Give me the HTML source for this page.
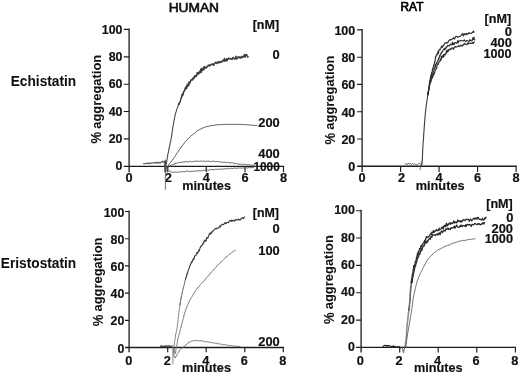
<!DOCTYPE html>
<html><head><meta charset="utf-8"><title>Platelet aggregation</title>
<style>
html,body{margin:0;padding:0;background:#fff;}
body{width:520px;height:374px;overflow:hidden;font-family:"Liberation Sans",sans-serif;}
svg{display:block;font-family:"Liberation Sans",sans-serif;filter:grayscale(1);}
</style></head><body>
<svg width="520" height="374" viewBox="0 0 520 374">
<rect width="520" height="374" fill="#fff"/>
<path d="M129.1,28.5 V172.2 M123.7,166.3 H284.1" stroke="#1c1c1c" stroke-width="1.3" fill="none"/>
<path d="M167.7,166.3 V172.2 M206.2,166.3 V172.2 M245.0,166.3 V172.2 M283.5,166.3 V172.2 M129.1,138.9 H123.7 M129.1,111.5 H123.7 M129.1,84.2 H123.7 M129.1,56.8 H123.7 M129.1,29.4 H123.7 " stroke="#1c1c1c" stroke-width="1.15" fill="none"/>
<text x="122.5" y="170.4" font-size="12.3" font-weight="bold" text-anchor="end" textLength="6.9" lengthAdjust="spacingAndGlyphs" fill="#111" stroke="#111" stroke-width="0.18">0</text>
<text x="122.5" y="143.0" font-size="12.3" font-weight="bold" text-anchor="end" textLength="13.8" lengthAdjust="spacingAndGlyphs" fill="#111" stroke="#111" stroke-width="0.18">20</text>
<text x="122.5" y="115.6" font-size="12.3" font-weight="bold" text-anchor="end" textLength="13.8" lengthAdjust="spacingAndGlyphs" fill="#111" stroke="#111" stroke-width="0.18">40</text>
<text x="122.5" y="88.3" font-size="12.3" font-weight="bold" text-anchor="end" textLength="13.8" lengthAdjust="spacingAndGlyphs" fill="#111" stroke="#111" stroke-width="0.18">60</text>
<text x="122.5" y="60.9" font-size="12.3" font-weight="bold" text-anchor="end" textLength="13.8" lengthAdjust="spacingAndGlyphs" fill="#111" stroke="#111" stroke-width="0.18">80</text>
<text x="122.5" y="33.5" font-size="12.3" font-weight="bold" text-anchor="end" textLength="20.7" lengthAdjust="spacingAndGlyphs" fill="#111" stroke="#111" stroke-width="0.18">100</text>
<text x="129.1" y="182.1" font-size="12.3" font-weight="bold" text-anchor="middle" textLength="7.1" lengthAdjust="spacingAndGlyphs" fill="#111" stroke="#111" stroke-width="0.18">0</text>
<text x="168.2" y="182.1" font-size="12.3" font-weight="bold" text-anchor="middle" textLength="7.1" lengthAdjust="spacingAndGlyphs" fill="#111" stroke="#111" stroke-width="0.18">2</text>
<text x="206.2" y="182.1" font-size="12.3" font-weight="bold" text-anchor="middle" textLength="7.1" lengthAdjust="spacingAndGlyphs" fill="#111" stroke="#111" stroke-width="0.18">4</text>
<text x="245.0" y="182.1" font-size="12.3" font-weight="bold" text-anchor="middle" textLength="7.1" lengthAdjust="spacingAndGlyphs" fill="#111" stroke="#111" stroke-width="0.18">6</text>
<text x="283.5" y="182.1" font-size="12.3" font-weight="bold" text-anchor="middle" textLength="7.1" lengthAdjust="spacingAndGlyphs" fill="#111" stroke="#111" stroke-width="0.18">8</text>
<path d="M362.1,29.0 V172.1 M357.1,166.25 H516.7" stroke="#1c1c1c" stroke-width="1.3" fill="none"/>
<path d="M400.6,166.25 V172.1 M439.1,166.25 V172.1 M477.6,166.25 V172.1 M516.1,166.25 V172.1 M362.1,139.0 H357.1 M362.1,111.7 H357.1 M362.1,84.4 H357.1 M362.1,57.2 H357.1 M362.1,29.9 H357.1 " stroke="#1c1c1c" stroke-width="1.15" fill="none"/>
<text x="355.3" y="171.0" font-size="12.3" font-weight="bold" text-anchor="end" textLength="7.0" lengthAdjust="spacingAndGlyphs" fill="#111" stroke="#111" stroke-width="0.18">0</text>
<text x="355.3" y="143.7" font-size="12.3" font-weight="bold" text-anchor="end" textLength="13.9" lengthAdjust="spacingAndGlyphs" fill="#111" stroke="#111" stroke-width="0.18">20</text>
<text x="355.3" y="116.5" font-size="12.3" font-weight="bold" text-anchor="end" textLength="13.9" lengthAdjust="spacingAndGlyphs" fill="#111" stroke="#111" stroke-width="0.18">40</text>
<text x="355.3" y="89.2" font-size="12.3" font-weight="bold" text-anchor="end" textLength="13.9" lengthAdjust="spacingAndGlyphs" fill="#111" stroke="#111" stroke-width="0.18">60</text>
<text x="355.3" y="61.9" font-size="12.3" font-weight="bold" text-anchor="end" textLength="13.9" lengthAdjust="spacingAndGlyphs" fill="#111" stroke="#111" stroke-width="0.18">80</text>
<text x="355.3" y="34.7" font-size="12.3" font-weight="bold" text-anchor="end" textLength="20.9" lengthAdjust="spacingAndGlyphs" fill="#111" stroke="#111" stroke-width="0.18">100</text>
<text x="362.0" y="181.9" font-size="12.3" font-weight="bold" text-anchor="middle" textLength="7.1" lengthAdjust="spacingAndGlyphs" fill="#111" stroke="#111" stroke-width="0.18">0</text>
<text x="401.5" y="181.9" font-size="12.3" font-weight="bold" text-anchor="middle" textLength="7.1" lengthAdjust="spacingAndGlyphs" fill="#111" stroke="#111" stroke-width="0.18">2</text>
<text x="439.0" y="181.9" font-size="12.3" font-weight="bold" text-anchor="middle" textLength="7.1" lengthAdjust="spacingAndGlyphs" fill="#111" stroke="#111" stroke-width="0.18">4</text>
<text x="477.5" y="181.9" font-size="12.3" font-weight="bold" text-anchor="middle" textLength="7.1" lengthAdjust="spacingAndGlyphs" fill="#111" stroke="#111" stroke-width="0.18">6</text>
<text x="516.0" y="181.9" font-size="12.3" font-weight="bold" text-anchor="middle" textLength="7.1" lengthAdjust="spacingAndGlyphs" fill="#111" stroke="#111" stroke-width="0.18">8</text>
<path d="M129.1,210.6 V352.2 M125.0,347.5 H283.90000000000003" stroke="#1c1c1c" stroke-width="1.3" fill="none"/>
<path d="M167.7,347.5 V352.2 M206.2,347.5 V352.2 M244.8,347.5 V352.2 M283.3,347.5 V352.2 M129.1,320.3 H125.0 M129.1,293.1 H125.0 M129.1,265.9 H125.0 M129.1,238.7 H125.0 M129.1,211.5 H125.0 " stroke="#1c1c1c" stroke-width="1.15" fill="none"/>
<text x="124.4" y="352.6" font-size="12.3" font-weight="bold" text-anchor="end" textLength="6.9" lengthAdjust="spacingAndGlyphs" fill="#111" stroke="#111" stroke-width="0.18">0</text>
<text x="124.4" y="325.4" font-size="12.3" font-weight="bold" text-anchor="end" textLength="13.8" lengthAdjust="spacingAndGlyphs" fill="#111" stroke="#111" stroke-width="0.18">20</text>
<text x="124.4" y="298.2" font-size="12.3" font-weight="bold" text-anchor="end" textLength="13.8" lengthAdjust="spacingAndGlyphs" fill="#111" stroke="#111" stroke-width="0.18">40</text>
<text x="124.4" y="271.0" font-size="12.3" font-weight="bold" text-anchor="end" textLength="13.8" lengthAdjust="spacingAndGlyphs" fill="#111" stroke="#111" stroke-width="0.18">60</text>
<text x="124.4" y="243.8" font-size="12.3" font-weight="bold" text-anchor="end" textLength="13.8" lengthAdjust="spacingAndGlyphs" fill="#111" stroke="#111" stroke-width="0.18">80</text>
<text x="124.4" y="216.6" font-size="12.3" font-weight="bold" text-anchor="end" textLength="20.7" lengthAdjust="spacingAndGlyphs" fill="#111" stroke="#111" stroke-width="0.18">100</text>
<text x="128.7" y="364.6" font-size="12.3" font-weight="bold" text-anchor="middle" textLength="7.1" lengthAdjust="spacingAndGlyphs" fill="#111" stroke="#111" stroke-width="0.18">0</text>
<text x="167.3" y="364.6" font-size="12.3" font-weight="bold" text-anchor="middle" textLength="7.1" lengthAdjust="spacingAndGlyphs" fill="#111" stroke="#111" stroke-width="0.18">2</text>
<text x="205.8" y="364.6" font-size="12.3" font-weight="bold" text-anchor="middle" textLength="7.1" lengthAdjust="spacingAndGlyphs" fill="#111" stroke="#111" stroke-width="0.18">4</text>
<text x="244.4" y="364.6" font-size="12.3" font-weight="bold" text-anchor="middle" textLength="7.1" lengthAdjust="spacingAndGlyphs" fill="#111" stroke="#111" stroke-width="0.18">6</text>
<text x="282.9" y="364.6" font-size="12.3" font-weight="bold" text-anchor="middle" textLength="7.1" lengthAdjust="spacingAndGlyphs" fill="#111" stroke="#111" stroke-width="0.18">8</text>
<path d="M361.1,209.79999999999998 V352.4 M356.1,347.4 H516.0" stroke="#1c1c1c" stroke-width="1.3" fill="none"/>
<path d="M399.7,347.4 V352.4 M438.2,347.4 V352.4 M476.8,347.4 V352.4 M515.4,347.4 V352.4 M361.1,320.1 H356.1 M361.1,292.7 H356.1 M361.1,265.4 H356.1 M361.1,238.0 H356.1 M361.1,210.7 H356.1 " stroke="#1c1c1c" stroke-width="1.15" fill="none"/>
<text x="354.9" y="351.0" font-size="12.3" font-weight="bold" text-anchor="end" textLength="6.9" lengthAdjust="spacingAndGlyphs" fill="#111" stroke="#111" stroke-width="0.18">0</text>
<text x="354.9" y="323.7" font-size="12.3" font-weight="bold" text-anchor="end" textLength="13.8" lengthAdjust="spacingAndGlyphs" fill="#111" stroke="#111" stroke-width="0.18">20</text>
<text x="354.9" y="296.3" font-size="12.3" font-weight="bold" text-anchor="end" textLength="13.8" lengthAdjust="spacingAndGlyphs" fill="#111" stroke="#111" stroke-width="0.18">40</text>
<text x="354.9" y="269.0" font-size="12.3" font-weight="bold" text-anchor="end" textLength="13.8" lengthAdjust="spacingAndGlyphs" fill="#111" stroke="#111" stroke-width="0.18">60</text>
<text x="354.9" y="241.6" font-size="12.3" font-weight="bold" text-anchor="end" textLength="13.8" lengthAdjust="spacingAndGlyphs" fill="#111" stroke="#111" stroke-width="0.18">80</text>
<text x="354.9" y="214.3" font-size="12.3" font-weight="bold" text-anchor="end" textLength="20.7" lengthAdjust="spacingAndGlyphs" fill="#111" stroke="#111" stroke-width="0.18">100</text>
<text x="360.4" y="364.7" font-size="12.3" font-weight="bold" text-anchor="middle" textLength="7.1" lengthAdjust="spacingAndGlyphs" fill="#111" stroke="#111" stroke-width="0.18">0</text>
<text x="399.0" y="364.7" font-size="12.3" font-weight="bold" text-anchor="middle" textLength="7.1" lengthAdjust="spacingAndGlyphs" fill="#111" stroke="#111" stroke-width="0.18">2</text>
<text x="437.5" y="364.7" font-size="12.3" font-weight="bold" text-anchor="middle" textLength="7.1" lengthAdjust="spacingAndGlyphs" fill="#111" stroke="#111" stroke-width="0.18">4</text>
<text x="476.1" y="364.7" font-size="12.3" font-weight="bold" text-anchor="middle" textLength="7.1" lengthAdjust="spacingAndGlyphs" fill="#111" stroke="#111" stroke-width="0.18">6</text>
<text x="514.7" y="364.7" font-size="12.3" font-weight="bold" text-anchor="middle" textLength="7.1" lengthAdjust="spacingAndGlyphs" fill="#111" stroke="#111" stroke-width="0.18">8</text>
<text x="168.7" y="12.3" font-size="12.9" font-weight="normal" text-anchor="start" textLength="50.3" lengthAdjust="spacingAndGlyphs" fill="#111" stroke="#111" stroke-width="0.65">HUMAN</text>
<text x="400.5" y="11.3" font-size="12.5" font-weight="normal" text-anchor="start" textLength="22.9" lengthAdjust="spacingAndGlyphs" fill="#000" stroke="#000" stroke-width="0.7">RAT</text>
<text x="10.7" y="85.6" font-size="14.5" font-weight="bold" text-anchor="start" textLength="65.5" lengthAdjust="spacingAndGlyphs" fill="#111" stroke="#111" stroke-width="0.05">Echistatin</text>
<text x="0.8" y="267.8" font-size="14.5" font-weight="bold" text-anchor="start" textLength="75.4" lengthAdjust="spacingAndGlyphs" fill="#111" stroke="#111" stroke-width="0.05">Eristostatin</text>
<text x="101.3" y="143.6" font-size="14.2" font-weight="bold" text-anchor="start" textLength="11.6" lengthAdjust="spacingAndGlyphs" transform="rotate(-90 101.3 143.6)" fill="#111" stroke="#111" stroke-width="0.05">%</text>
<text x="100.7" y="128.8" font-size="12.1" font-weight="bold" text-anchor="start" textLength="74.0" lengthAdjust="spacingAndGlyphs" transform="rotate(-90 100.7 128.8)" fill="#111" stroke="#111" stroke-width="0.05">aggregation</text>
<text x="102.9" y="326.3" font-size="14.2" font-weight="bold" text-anchor="start" textLength="11.6" lengthAdjust="spacingAndGlyphs" transform="rotate(-90 102.9 326.3)" fill="#111" stroke="#111" stroke-width="0.05">%</text>
<text x="102.3" y="311.5" font-size="12.1" font-weight="bold" text-anchor="start" textLength="74.0" lengthAdjust="spacingAndGlyphs" transform="rotate(-90 102.3 311.5)" fill="#111" stroke="#111" stroke-width="0.05">aggregation</text>
<text x="334.6" y="144.5" font-size="14.2" font-weight="bold" text-anchor="start" textLength="11.6" lengthAdjust="spacingAndGlyphs" transform="rotate(-90 334.6 144.5)" fill="#111" stroke="#111" stroke-width="0.05">%</text>
<text x="334.0" y="129.7" font-size="12.1" font-weight="bold" text-anchor="start" textLength="74.0" lengthAdjust="spacingAndGlyphs" transform="rotate(-90 334.0 129.7)" fill="#111" stroke="#111" stroke-width="0.05">aggregation</text>
<text x="333.8" y="324.0" font-size="14.2" font-weight="bold" text-anchor="start" textLength="11.6" lengthAdjust="spacingAndGlyphs" transform="rotate(-90 333.8 324.0)" fill="#111" stroke="#111" stroke-width="0.05">%</text>
<text x="333.2" y="309.2" font-size="12.1" font-weight="bold" text-anchor="start" textLength="74.0" lengthAdjust="spacingAndGlyphs" transform="rotate(-90 333.2 309.2)" fill="#111" stroke="#111" stroke-width="0.05">aggregation</text>
<text x="182.3" y="190.0" font-size="12.8" font-weight="bold" text-anchor="start" textLength="48.7" lengthAdjust="spacingAndGlyphs" fill="#111" stroke="#111" stroke-width="0.18">minutes</text>
<text x="415.7" y="190.0" font-size="12.8" font-weight="bold" text-anchor="start" textLength="48.9" lengthAdjust="spacingAndGlyphs" fill="#111" stroke="#111" stroke-width="0.18">minutes</text>
<text x="182.1" y="372.1" font-size="12.8" font-weight="bold" text-anchor="start" textLength="49.0" lengthAdjust="spacingAndGlyphs" fill="#111" stroke="#111" stroke-width="0.18">minutes</text>
<text x="413.9" y="372.1" font-size="12.8" font-weight="bold" text-anchor="start" textLength="48.7" lengthAdjust="spacingAndGlyphs" fill="#111" stroke="#111" stroke-width="0.18">minutes</text>
<text x="279.1" y="29.2" font-size="12.1" font-weight="bold" text-anchor="end" textLength="26.4" lengthAdjust="spacingAndGlyphs" fill="#111" stroke="#111" stroke-width="0.18">[nM]</text>
<text x="279.8" y="59.4" font-size="12.1" font-weight="bold" text-anchor="end" textLength="7.2" lengthAdjust="spacingAndGlyphs" fill="#111" stroke="#111" stroke-width="0.18">0</text>
<text x="279.8" y="127.4" font-size="12.1" font-weight="bold" text-anchor="end" textLength="21.5" lengthAdjust="spacingAndGlyphs" fill="#111" stroke="#111" stroke-width="0.18">200</text>
<text x="279.8" y="158.2" font-size="12.1" font-weight="bold" text-anchor="end" textLength="21.5" lengthAdjust="spacingAndGlyphs" fill="#111" stroke="#111" stroke-width="0.18">400</text>
<text x="279.8" y="170.7" font-size="12.1" font-weight="bold" text-anchor="end" textLength="26.4" lengthAdjust="spacingAndGlyphs" fill="#111" stroke="#111" stroke-width="0.18">1000</text>
<text x="511.2" y="22.6" font-size="12.1" font-weight="bold" text-anchor="end" textLength="26.6" lengthAdjust="spacingAndGlyphs" fill="#111" stroke="#111" stroke-width="0.18">[nM]</text>
<text x="512.0" y="36.1" font-size="12.1" font-weight="bold" text-anchor="end" textLength="7.2" lengthAdjust="spacingAndGlyphs" fill="#111" stroke="#111" stroke-width="0.18">0</text>
<text x="511.9" y="46.6" font-size="12.1" font-weight="bold" text-anchor="end" textLength="21.5" lengthAdjust="spacingAndGlyphs" fill="#111" stroke="#111" stroke-width="0.18">400</text>
<text x="511.5" y="57.6" font-size="12.1" font-weight="bold" text-anchor="end" textLength="28.0" lengthAdjust="spacingAndGlyphs" fill="#111" stroke="#111" stroke-width="0.18">1000</text>
<text x="279.0" y="216.6" font-size="12.1" font-weight="bold" text-anchor="end" textLength="26.2" lengthAdjust="spacingAndGlyphs" fill="#111" stroke="#111" stroke-width="0.18">[nM]</text>
<text x="279.8" y="233.3" font-size="12.1" font-weight="bold" text-anchor="end" textLength="7.2" lengthAdjust="spacingAndGlyphs" fill="#111" stroke="#111" stroke-width="0.18">0</text>
<text x="279.8" y="255.3" font-size="12.1" font-weight="bold" text-anchor="end" textLength="21.5" lengthAdjust="spacingAndGlyphs" fill="#111" stroke="#111" stroke-width="0.18">100</text>
<text x="279.8" y="346.2" font-size="12.1" font-weight="bold" text-anchor="end" textLength="21.5" lengthAdjust="spacingAndGlyphs" fill="#111" stroke="#111" stroke-width="0.18">200</text>
<text x="512.8" y="208.4" font-size="12.1" font-weight="bold" text-anchor="end" textLength="26.6" lengthAdjust="spacingAndGlyphs" fill="#111" stroke="#111" stroke-width="0.18">[nM]</text>
<text x="513.4" y="222.0" font-size="12.1" font-weight="bold" text-anchor="end" textLength="7.2" lengthAdjust="spacingAndGlyphs" fill="#111" stroke="#111" stroke-width="0.18">0</text>
<text x="513.0" y="232.6" font-size="12.1" font-weight="bold" text-anchor="end" textLength="21.5" lengthAdjust="spacingAndGlyphs" fill="#111" stroke="#111" stroke-width="0.18">200</text>
<text x="513.0" y="243.3" font-size="12.1" font-weight="bold" text-anchor="end" textLength="28.3" lengthAdjust="spacingAndGlyphs" fill="#111" stroke="#111" stroke-width="0.18">1000</text>
<path d="M143.2,163.8 L143.9,163.6 L144.7,163.7 L145.4,163.8 L146.1,163.3 L146.9,163.5 L147.6,163.5 L148.3,162.7 L149.1,163.8 L149.8,163.6 L150.5,163.0 L151.3,163.1 L152.0,163.3 L152.7,163.0 L153.4,162.9 L154.2,162.4 L154.9,163.1 L155.6,162.9 L156.4,162.9 L157.1,162.1 L157.8,163.3 L158.6,162.6 L159.3,162.3 L160.0,163.2 L160.8,162.3 L161.5,161.7 L162.2,162.0 L162.9,161.2 L163.7,162.4 L164.4,161.7" fill="none" stroke="#555" stroke-width="1.1" stroke-linejoin="round" />
<path d="M165.4,159.5 V189.8" stroke="#666" stroke-width="0.9" fill="none"/>
<path d="M165.3,160.6 V172.2" stroke="#4a4a4a" stroke-width="2.2" fill="none"/>
<path d="M166.3,164.5 L166.4,164.1 L166.5,162.6 L166.6,162.6 L166.7,161.1 L166.8,160.8 L166.9,159.9 L167.0,160.0 L167.1,159.4 L167.2,158.1 L167.3,157.7 L167.5,156.7 L167.6,156.3 L167.7,155.2 L167.8,154.2 L168.0,153.5 L168.1,153.4 L168.2,153.3 L168.4,152.0 L168.5,151.1 L168.7,151.1 L168.8,149.9 L168.9,149.2 L169.1,148.5 L169.2,147.7 L169.4,147.0 L169.5,145.9 L169.7,145.8 L169.8,144.9 L170.0,144.6 L170.1,143.5 L170.3,142.3 L170.4,142.2 L170.6,142.0 L170.7,140.7 L170.9,139.9 L171.0,139.1 L171.2,138.4 L171.3,138.0 L171.4,137.0 L171.5,137.1 L171.6,135.9 L171.7,135.3 L171.8,135.0 L171.9,134.3 L172.0,133.1 L172.1,132.5 L172.2,132.0 L172.3,131.0 L172.4,129.8 L172.5,129.8 L172.6,129.2 L172.7,128.3 L172.8,127.2 L172.9,126.8 L173.1,125.9 L173.2,125.3 L173.3,125.1 L173.4,124.5 L173.5,123.5 L173.7,122.8 L173.8,122.1 L173.9,121.2 L174.0,120.5 L174.2,119.6 L174.3,119.1 L174.4,119.1 L174.6,118.0 L174.7,116.9 L174.9,116.2 L175.0,115.4 L175.2,115.1 L175.3,114.4 L175.5,113.2 L175.7,113.1 L175.9,112.1 L176.1,112.0 L176.3,110.9 L176.5,110.7 L176.7,109.4 L177.0,108.8 L177.2,108.3 L177.5,107.9 L177.7,107.1 L178.0,105.9 L178.3,105.6 L178.5,104.9 L178.8,104.1 L179.1,103.4" fill="none" stroke="#444" stroke-width="1.05" stroke-linejoin="round" />
<path d="M178.4,105.2 L178.6,104.3 L178.8,103.4 L179.1,104.3 L179.3,103.3 L179.5,102.6 L179.7,102.9 L179.9,102.1 L180.1,101.5 L180.3,101.5 L180.6,100.4 L180.8,99.0 L181.0,98.7 L181.2,98.1 L181.4,98.2 L181.6,96.5 L181.8,95.3 L182.0,96.6 L182.3,94.7 L182.5,93.6 L182.7,95.3 L182.9,93.8 L183.2,94.5 L183.4,93.0 L183.6,91.9 L183.8,91.3 L184.1,91.5 L184.3,91.2 L184.5,90.2 L184.8,90.2 L185.0,88.5 L185.3,89.5 L185.5,87.2 L185.8,88.3 L186.0,88.6 L186.3,88.5 L186.6,88.6 L186.8,85.1 L187.1,86.8 L187.4,86.8 L187.7,86.1 L188.0,83.8 L188.4,84.6 L188.7,85.6 L189.0,81.9 L189.4,83.4 L189.7,83.6 L190.1,81.4 L190.4,82.2 L190.8,80.2 L191.2,80.0 L191.5,79.6 L191.9,80.1 L192.2,79.4 L192.6,80.0 L193.0,77.8 L193.3,78.2 L193.7,78.8 L194.1,78.0 L194.5,75.8 L194.8,77.3 L195.2,75.8 L195.6,76.2 L196.0,75.7 L196.4,76.2 L196.8,74.8 L197.2,72.5 L197.6,72.6 L198.0,74.2 L198.4,72.9 L198.8,73.9 L199.2,72.7 L199.6,71.3 L200.0,72.7 L200.5,70.5 L200.9,69.0 L201.3,72.5 L201.7,68.4 L202.2,70.5 L202.6,70.4 L203.1,69.4 L203.5,67.3 L204.0,69.6 L204.4,66.9 L204.9,66.7 L205.4,67.4 L205.8,68.2 L206.3,67.4 L206.8,67.6 L207.3,66.2 L207.8,66.2 L208.3,65.0 L208.8,65.5 L209.3,66.1 L209.8,65.1 L210.3,65.6 L210.8,64.4 L211.3,64.2 L211.8,64.6 L212.3,64.1 L212.8,64.7 L213.4,64.1 L213.9,65.4 L214.4,63.4 L214.9,63.2 L215.5,62.3 L216.0,63.1 L216.5,63.6 L217.1,62.0 L217.6,62.5 L218.1,63.1 L218.6,62.1 L219.2,61.5 L219.7,62.8 L220.2,61.8 L220.7,61.9 L221.3,62.4 L221.8,62.2 L222.3,60.6 L222.8,60.3 L223.4,60.9 L223.9,60.3 L224.4,58.5 L224.9,61.3 L225.5,60.0 L226.0,60.5 L226.5,58.6 L227.1,60.8 L227.6,58.9 L228.2,59.2 L228.7,57.9 L229.2,58.9 L229.8,58.7 L230.3,58.7 L230.9,59.1 L231.4,58.7 L232.0,59.4 L232.5,58.0 L233.0,57.4 L233.6,58.2 L234.1,58.7 L234.7,59.2 L235.2,58.7 L235.8,56.1 L236.3,58.1 L236.9,59.0 L237.4,57.6 L237.9,56.9 L238.5,57.6 L239.0,56.8 L239.6,57.8 L240.1,57.1 L240.7,58.3 L241.2,57.4 L241.8,56.2 L242.3,57.4 L242.9,57.6 L243.4,56.1 L244.0,56.2 L244.5,54.4 L245.1,57.4 L245.6,55.9 L246.2,54.4 L246.7,54.7 L247.3,56.1 L247.8,57.1 L248.4,56.2" fill="none" stroke="#3a3a3a" stroke-width="1.4" stroke-linejoin="round" />
<path d="M167.0,168.5 L167.3,167.7 L167.5,167.0 L167.8,166.6 L168.2,166.0 L168.5,165.3 L168.8,164.8 L169.2,164.0 L169.6,163.4 L170.0,163.0 L170.5,162.6 L170.9,161.8 L171.4,161.5 L171.8,160.6 L172.3,160.2 L172.7,159.6 L173.1,158.8 L173.5,158.5 L173.9,158.0 L174.3,157.3 L174.7,156.7 L175.1,156.3 L175.5,155.3 L175.9,154.7 L176.3,154.2 L176.6,153.6 L177.0,153.3 L177.4,152.5 L177.8,151.8 L178.2,151.3 L178.6,151.1 L179.0,150.1 L179.4,149.5 L179.8,149.0 L180.2,148.5 L180.7,147.9 L181.1,147.2 L181.5,146.6 L181.9,146.2 L182.3,145.6 L182.8,144.8 L183.2,144.6 L183.6,144.0 L184.1,143.3 L184.5,142.7 L185.0,142.3 L185.4,141.6 L185.9,141.0 L186.4,140.7 L186.9,140.0 L187.4,139.7 L187.8,138.9 L188.3,138.6 L188.8,138.1 L189.4,137.8 L189.9,137.0 L190.4,136.4 L190.9,136.0 L191.4,135.5 L192.0,135.1 L192.5,134.8 L193.1,134.4 L193.6,134.0 L194.2,133.3 L194.7,133.3 L195.3,132.7 L195.8,132.0 L196.4,131.4 L197.0,131.2 L197.6,130.8 L198.2,130.1 L198.8,130.0 L199.4,129.6 L200.0,129.2 L200.6,129.1 L201.2,128.8 L201.9,128.3 L202.5,128.2 L203.2,127.8 L203.9,127.5 L204.5,127.4 L205.2,127.2 L205.9,126.8 L206.6,126.4 L207.3,126.6 L208.0,126.2 L208.6,126.2 L209.3,126.3 L210.0,125.9 L210.7,125.6 L211.4,125.5 L212.1,125.7 L212.8,125.4 L213.5,125.4 L214.2,125.3 L214.9,125.1 L215.6,125.0 L216.3,124.9 L217.0,124.6 L217.8,124.7 L218.5,124.8 L219.2,124.7 L219.9,124.7 L220.6,124.6 L221.3,124.6 L222.0,124.6 L222.7,124.4 L223.4,124.4 L224.1,124.2 L224.8,124.5 L225.5,124.4 L226.2,124.5 L227.0,124.6 L227.7,124.5 L228.4,124.4 L229.1,124.5 L229.8,124.2 L230.5,124.5 L231.2,124.4 L231.9,124.2 L232.6,124.6 L233.3,124.3 L234.0,124.5 L234.8,124.3 L235.5,124.5 L236.2,124.6 L236.9,124.3 L237.6,124.2 L238.3,124.4 L239.0,124.5 L239.7,124.4 L240.4,124.4 L241.1,124.5 L241.8,124.2 L242.5,124.5 L243.3,124.4 L244.0,124.7 L244.7,124.6 L245.4,124.6 L246.1,124.7 L246.8,124.6 L247.5,124.9 L248.2,124.8 L248.9,124.9 L249.6,124.9 L250.3,125.2 L251.0,125.1 L251.7,125.2 L252.5,125.3 L253.2,125.2 L253.9,125.4 L254.6,125.4 L255.3,125.5 L256.0,125.4 L256.7,125.5 L257.4,125.7" fill="none" stroke="#484848" stroke-width="1.0" stroke-linejoin="round" />
<path d="M166.5,169.5 L166.9,168.7 L167.4,168.4 L167.9,167.7 L168.3,167.4 L168.9,166.9 L169.4,166.6 L170.0,165.4 L170.6,165.5 L171.2,165.1 L171.9,165.0 L172.5,164.5 L173.2,164.3 L173.8,164.3 L174.5,164.3 L175.2,163.1 L175.9,163.4 L176.5,163.3 L177.2,163.1 L177.9,162.8 L178.6,162.5 L179.3,162.4 L180.0,162.6 L180.7,162.6 L181.4,162.3 L182.1,162.0 L182.8,162.1 L183.5,162.0 L184.2,162.1 L184.9,161.9 L185.6,161.7 L186.3,161.8 L187.0,161.5 L187.7,161.9 L188.5,161.9 L189.2,161.4 L189.9,161.6 L190.6,161.3 L191.3,161.7 L192.0,161.6 L192.7,161.4 L193.4,161.6 L194.1,161.3 L194.8,161.2 L195.5,161.2 L196.2,161.2 L197.0,161.2 L197.7,161.3 L198.4,161.1 L199.1,161.4 L199.8,161.4 L200.5,161.1 L201.2,160.9 L201.9,161.3 L202.6,161.4 L203.3,161.2 L204.0,161.0 L204.8,161.3 L205.5,161.6 L206.2,160.9 L206.9,161.4 L207.6,161.3 L208.3,161.2 L209.0,161.5 L209.7,161.1 L210.4,161.5 L211.1,161.7 L211.8,161.5 L212.5,161.3 L213.3,161.2 L214.0,161.3 L214.7,161.2 L215.4,162.0 L216.1,161.6 L216.8,161.5 L217.5,161.5 L218.2,161.6 L218.9,161.8 L219.6,161.6 L220.3,162.3 L221.0,161.8 L221.7,161.9 L222.5,162.2 L223.2,162.4 L223.9,162.5 L224.6,162.2 L225.3,162.4 L226.0,162.5 L226.7,162.6 L227.4,162.6 L228.1,162.5 L228.8,162.5 L229.5,162.8 L230.2,162.6 L230.9,163.2 L231.6,163.0 L232.3,162.9 L233.0,163.1 L233.7,163.2 L234.4,163.4 L235.1,163.7 L235.8,163.4 L236.5,163.4 L237.2,163.9 L237.9,163.9 L238.6,164.1 L239.3,164.2 L240.0,164.2 L240.8,164.4 L241.5,164.1 L242.2,164.4 L242.9,164.3 L243.6,164.3 L244.3,164.7 L245.0,164.7 L245.7,164.3 L246.4,164.5 L247.1,164.8 L247.8,165.0 L248.5,164.7 L249.2,164.8 L249.9,164.6 L250.6,165.4 L251.4,165.0 L252.1,165.1 L252.8,165.1 L253.5,165.2 L254.2,165.1" fill="none" stroke="#555" stroke-width="0.95" stroke-linejoin="round" />
<path d="M166.2,167.5 L166.7,168.2 L167.2,168.5 L167.7,169.3 L168.2,169.5 L168.7,170.2 L169.2,171.1 L169.7,171.7 L170.2,171.9 L170.8,171.9 L171.4,172.0 L172.0,171.9 L172.7,172.4 L173.5,172.2 L174.2,172.3 L175.0,172.1 L175.7,171.9 L176.4,172.2 L177.1,172.3 L177.8,172.1 L178.5,171.9 L179.2,172.1 L179.9,171.8 L180.7,172.0 L181.4,171.6 L182.1,171.5 L182.8,171.8 L183.5,171.7 L184.2,172.0 L184.9,171.5 L185.6,171.5 L186.3,171.2 L187.0,171.1 L187.7,171.0 L188.4,171.5 L189.1,171.1 L189.9,171.5 L190.6,171.5 L191.3,171.2 L192.0,171.5 L192.7,171.2 L193.4,171.3 L194.1,171.0 L194.8,171.2 L195.5,170.8 L196.2,171.1 L196.9,170.8 L197.6,170.8 L198.3,170.9 L199.0,170.8 L199.8,170.7 L200.5,170.8 L201.2,170.8 L201.9,170.3 L202.6,170.6 L203.3,170.6 L204.0,170.2 L204.7,170.4 L205.4,170.0 L206.1,170.5 L206.8,170.1 L207.5,170.1 L208.2,170.3 L208.9,169.9 L209.6,170.0 L210.3,169.6 L211.0,169.7 L211.8,169.5 L212.5,169.6 L213.2,169.8 L213.9,169.6 L214.6,169.7 L215.3,169.3 L216.0,169.2 L216.7,169.3 L217.4,169.4 L218.1,169.3 L218.8,169.2 L219.5,169.3 L220.2,169.1 L220.9,169.0 L221.6,169.3 L222.4,168.8 L223.1,168.9 L223.8,169.2 L224.5,168.8 L225.2,168.9 L225.9,168.6 L226.6,169.1 L227.3,168.2 L228.0,168.4 L228.7,168.4 L229.4,168.9 L230.1,168.6 L230.8,168.4 L231.5,168.2 L232.3,168.5 L233.0,168.4 L233.7,168.2 L234.4,168.0 L235.1,168.1 L235.8,168.3 L236.5,168.3 L237.2,168.2 L237.9,168.2 L238.6,167.8 L239.3,168.1 L240.0,167.9 L240.8,168.1 L241.5,168.1 L242.2,167.9 L242.9,167.8 L243.6,168.1 L244.3,168.0 L245.0,167.8 L245.7,167.3 L246.4,167.8 L247.1,167.9 L247.8,168.0 L248.5,167.6 L249.2,167.6 L250.0,167.6 L250.7,167.8 L251.4,167.4 L252.1,167.6 L252.8,167.4 L253.5,167.6 L254.2,167.2" fill="none" stroke="#555" stroke-width="0.95" stroke-linejoin="round" />
<path d="M404.7,164.2 L405.5,163.9 L406.2,163.9 L407.0,164.1 L407.7,164.3 L408.5,163.0 L409.3,164.2 L410.0,164.0 L410.8,163.6 L411.6,164.4 L412.3,163.9 L413.1,164.5 L413.8,163.7 L414.6,163.7 L415.4,164.6 L416.1,165.1 L416.9,164.4 L417.7,164.4 L418.4,163.7 L419.2,163.3 L419.9,163.6 L420.7,164.3" fill="none" stroke="#555" stroke-width="0.95" stroke-linejoin="round" />
<path d="M422.0,161.4 L419.9,170.2" stroke="#666" stroke-width="0.9" fill="none"/>
<path d="M421.2,166.5 L421.4,165.7 L421.5,164.8 L421.7,164.4 L421.9,163.8 L422.0,162.8 L422.1,162.3 L422.1,161.8 L422.2,160.9 L422.2,160.0 L422.3,159.3 L422.3,158.5 L422.4,158.2 L422.4,157.2 L422.4,156.8 L422.5,156.1 L422.5,155.1 L422.5,154.4 L422.5,153.9 L422.6,153.1 L422.6,152.4 L422.6,151.4 L422.7,151.1 L422.7,150.1 L422.7,149.2 L422.8,148.7 L422.8,148.1 L422.9,147.7 L422.9,146.6 L423.0,145.8 L423.0,145.6 L423.0,144.6 L423.1,143.8 L423.1,142.9 L423.2,142.2 L423.2,141.9 L423.3,140.9 L423.4,140.2 L423.4,139.5 L423.5,139.1 L423.5,138.0 L423.6,137.5 L423.6,136.8 L423.6,136.0 L423.7,135.2 L423.7,134.7 L423.8,134.1 L423.8,133.1 L423.9,132.3 L423.9,131.5 L424.0,131.1 L424.0,130.3 L424.1,129.6 L424.1,128.9 L424.2,128.0 L424.2,127.6 L424.3,126.8 L424.3,126.0 L424.4,125.4 L424.4,124.8 L424.5,123.9 L424.5,123.1 L424.6,122.7 L424.7,121.7 L424.7,121.0 L424.8,120.1 L424.8,119.7 L424.9,118.8 L424.9,118.2 L425.0,117.6 L425.0,116.8 L425.1,116.3 L425.2,115.4 L425.2,114.6 L425.3,113.9 L425.4,113.2 L425.4,112.7 L425.5,111.9 L425.6,111.1 L425.7,110.6 L425.8,109.7 L425.8,108.9 L425.9,108.1 L426.0,107.7 L426.1,106.9 L426.2,106.2 L426.3,105.4 L426.4,104.6 L426.5,104.0 L426.6,103.4 L426.6,102.6 L426.7,101.9 L426.8,101.2 L426.9,100.6 L427.1,99.9 L427.2,99.0 L427.3,98.5 L427.4,97.8 L427.5,97.1 L427.6,96.3 L427.7,95.6 L427.8,94.7 L428.0,94.3 L428.1,93.2 L428.2,92.7" fill="none" stroke="#3c3c3c" stroke-width="1.1" stroke-linejoin="round" />
<path d="M427.8,95.0 L427.9,95.0 L428.0,93.8 L428.1,92.5 L428.2,91.5 L428.3,91.5 L428.4,91.5 L428.5,90.8 L428.6,90.1 L428.6,89.1 L428.7,88.8 L428.8,89.1 L428.9,87.0 L428.9,87.2 L429.0,87.8 L429.1,86.4 L429.2,85.0 L429.2,85.3 L429.3,83.6 L429.4,83.6 L429.5,84.1 L429.6,83.8 L429.7,80.5 L429.8,81.7 L429.9,82.0 L430.0,79.6 L430.1,79.6 L430.2,79.9 L430.4,77.8 L430.5,77.9 L430.6,77.0 L430.8,75.0 L430.9,76.1 L431.0,75.1 L431.2,75.3 L431.3,75.6 L431.5,74.0 L431.6,72.6 L431.8,72.6 L432.0,71.9 L432.2,71.9 L432.4,69.5 L432.6,69.1 L432.8,67.9 L432.9,69.3 L433.1,68.2 L433.3,67.2 L433.4,66.5 L433.6,66.1 L433.7,65.2 L433.9,65.1 L434.0,64.3 L434.1,65.2 L434.3,63.8 L434.4,62.3 L434.6,61.9 L434.7,62.6 L434.8,61.5 L434.9,60.8 L435.1,60.5 L435.2,60.5 L435.3,57.9 L435.5,57.6 L435.7,56.3 L435.8,57.4 L436.1,56.2 L436.3,55.4 L436.5,54.8 L436.8,55.3 L437.0,54.1 L437.3,53.3 L437.6,54.1 L437.9,51.8 L438.2,51.1 L438.5,53.5 L438.8,50.7 L439.1,50.1 L439.5,49.4 L439.8,49.4 L440.1,49.6 L440.5,49.1 L440.8,48.4 L441.2,47.3 L441.6,46.0 L442.0,46.8 L442.4,47.3 L442.8,46.5 L443.3,45.1 L443.7,45.4 L444.2,44.1 L444.6,44.0 L445.1,42.7 L445.5,43.0 L446.0,43.0 L446.5,42.4 L447.0,42.7 L447.5,43.2 L448.0,42.5 L448.5,40.9 L449.1,40.3 L449.6,40.1 L450.1,39.5 L450.6,40.0 L451.1,39.9 L451.7,39.4 L452.2,39.1 L452.7,38.8 L453.3,38.3 L453.8,37.6 L454.3,39.1 L454.9,38.4 L455.4,36.7 L456.0,36.4 L456.6,36.4 L457.1,36.7 L457.7,37.4 L458.3,37.0 L458.8,36.8 L459.4,36.6 L460.0,36.4 L460.6,36.0 L461.1,35.6 L461.7,34.9 L462.3,33.5 L462.9,34.6 L463.5,35.9 L464.0,33.9 L464.6,33.7 L465.2,34.8 L465.8,33.9 L466.4,33.4 L467.0,34.8 L467.6,33.9 L468.2,33.9 L468.8,32.7 L469.3,33.4 L469.9,33.1 L470.5,33.2 L471.1,33.4 L471.7,33.2 L472.3,32.3 L472.8,32.5 L473.4,31.0 L474.0,32.2 L474.6,32.0" fill="none" stroke="#2e2e2e" stroke-width="1.15" stroke-linejoin="round" />
<path d="M427.8,95.0 L427.9,93.8 L428.0,93.8 L428.1,92.3 L428.2,92.9 L428.3,92.2 L428.4,90.7 L428.5,90.8 L428.6,91.0 L428.7,90.4 L428.8,89.8 L428.9,88.3 L429.0,87.5 L429.1,86.9 L429.2,87.0 L429.3,87.8 L429.4,86.4 L429.5,86.0 L429.6,85.2 L429.7,82.4 L429.8,82.9 L429.9,82.1 L430.1,82.8 L430.2,82.5 L430.4,80.2 L430.6,80.1 L430.7,79.9 L430.9,78.6 L431.1,77.9 L431.3,77.3 L431.5,77.9 L431.7,75.9 L431.9,76.9 L432.1,75.5 L432.3,75.5 L432.5,75.5 L432.7,73.2 L432.9,72.6 L433.1,72.9 L433.3,71.2 L433.5,70.9 L433.7,70.8 L433.9,70.4 L434.1,68.8 L434.3,68.9 L434.5,69.0 L434.7,69.0 L434.9,66.0 L435.1,67.8 L435.3,66.9 L435.5,64.9 L435.7,64.0 L435.9,64.9 L436.2,63.7 L436.4,63.5 L436.6,63.5 L436.8,62.0 L437.0,61.9 L437.3,61.5 L437.5,61.3 L437.8,61.4 L438.0,60.8 L438.3,59.2 L438.5,58.3 L438.8,59.7 L439.1,57.8 L439.4,57.1 L439.7,55.4 L440.0,56.3 L440.3,54.6 L440.6,54.3 L440.9,53.1 L441.2,53.2 L441.6,53.2 L441.9,51.5 L442.2,51.5 L442.6,51.6 L443.0,50.2 L443.4,49.8 L443.7,49.6 L444.1,48.7 L444.6,49.8 L445.0,48.1 L445.4,49.0 L445.8,48.7 L446.3,46.7 L446.7,47.2 L447.2,46.4 L447.7,45.6 L448.1,45.8 L448.7,45.5 L449.2,45.9 L449.7,45.9 L450.3,44.0 L450.8,44.3 L451.4,44.7 L451.9,45.0 L452.5,42.1 L453.1,44.7 L453.6,43.4 L454.2,44.5 L454.8,42.8 L455.4,42.4 L456.0,42.8 L456.6,43.5 L457.2,42.5 L457.7,40.6 L458.3,42.7 L458.9,40.9 L459.5,41.2 L460.1,40.9 L460.7,40.3 L461.3,40.6 L461.9,40.7 L462.5,40.8 L463.1,41.1 L463.7,40.8 L464.3,39.8 L464.9,40.7 L465.5,41.4 L466.1,41.3 L466.7,40.6 L467.3,40.8 L467.9,40.9 L468.5,41.2 L469.1,41.3 L469.7,39.7 L470.3,39.7 L470.9,40.9 L471.5,40.9 L472.1,40.8 L472.7,37.9 L473.3,39.4 L473.9,37.1 L474.5,40.0 L475.1,39.4" fill="none" stroke="#2e2e2e" stroke-width="1.15" stroke-linejoin="round" />
<path d="M427.8,95.0 L427.9,94.3 L428.0,94.8 L428.1,93.0 L428.2,93.4 L428.3,92.4 L428.5,91.7 L428.6,91.2 L428.7,90.3 L428.8,88.8 L428.9,89.6 L429.0,89.0 L429.1,87.7 L429.2,87.8 L429.3,87.3 L429.5,85.1 L429.6,85.4 L429.7,84.6 L429.9,83.6 L430.0,84.0 L430.2,82.5 L430.3,82.2 L430.5,82.2 L430.7,81.7 L430.9,81.1 L431.1,82.0 L431.3,79.3 L431.5,79.3 L431.8,77.7 L432.0,78.4 L432.2,78.3 L432.5,77.8 L432.7,75.9 L433.0,75.6 L433.2,76.2 L433.4,74.6 L433.7,74.8 L433.9,72.8 L434.2,74.1 L434.4,73.3 L434.7,72.3 L435.0,70.8 L435.2,70.7 L435.5,70.4 L435.7,69.9 L436.0,69.1 L436.2,68.5 L436.4,68.2 L436.7,68.6 L436.9,65.4 L437.1,65.4 L437.4,64.7 L437.6,64.8 L437.9,63.4 L438.1,64.6 L438.4,63.7 L438.7,62.9 L439.0,62.1 L439.3,62.2 L439.6,61.7 L439.9,61.3 L440.2,60.0 L440.5,60.5 L440.8,58.4 L441.2,59.9 L441.5,56.1 L441.8,57.5 L442.2,56.5 L442.5,57.5 L442.9,55.3 L443.2,57.3 L443.6,54.3 L444.0,56.5 L444.3,54.8 L444.7,54.1 L445.1,54.0 L445.5,54.8 L446.0,53.4 L446.4,50.6 L446.9,52.8 L447.3,51.6 L447.8,49.9 L448.3,51.3 L448.7,49.4 L449.2,50.1 L449.7,49.8 L450.2,48.8 L450.8,49.5 L451.3,48.0 L451.8,48.7 L452.4,47.9 L453.0,48.0 L453.5,49.3 L454.1,47.8 L454.7,46.7 L455.3,47.2 L455.8,46.5 L456.4,46.9 L457.0,46.8 L457.6,46.6 L458.1,46.4 L458.7,45.7 L459.3,46.3 L459.9,46.6 L460.5,45.2 L461.0,45.4 L461.6,45.4 L462.2,46.1 L462.8,45.8 L463.4,44.3 L464.0,44.7 L464.5,43.4 L465.1,43.6 L465.7,44.2 L466.3,44.5 L466.9,44.6 L467.5,43.5 L468.1,42.6 L468.6,43.8 L469.2,43.2 L469.8,43.5 L470.4,43.2 L471.0,43.5 L471.6,43.3 L472.2,43.4 L472.8,42.3 L473.4,43.3 L474.0,42.1 L474.6,42.5" fill="none" stroke="#2e2e2e" stroke-width="1.15" stroke-linejoin="round" />
<path d="M160.1,346.2 L160.8,346.3 L161.6,345.8 L162.3,346.5 L163.1,346.4 L163.8,346.4 L164.5,346.1 L165.3,346.1 L166.0,345.9 L166.8,345.8 L167.5,346.5 L168.3,345.9 L169.0,345.9 L169.7,345.9 L170.5,346.6 L171.2,346.3 L172.0,346.0 L172.7,346.1" fill="none" stroke="#3a3a3a" stroke-width="1.2" stroke-linejoin="round" />
<path d="M172.9,347 V364.2" stroke="#888" stroke-width="1.0" fill="none"/>
<path d="M173.9,347.3 L174.0,346.7 L174.1,345.7 L174.2,345.3 L174.3,344.4 L174.3,343.7 L174.4,343.0 L174.5,342.4 L174.6,341.8 L174.7,340.9 L174.8,340.2 L174.9,339.4 L175.1,338.8 L175.2,338.1 L175.3,337.2 L175.4,336.6 L175.5,336.0 L175.6,335.0 L175.8,334.5 L175.9,333.9 L176.0,332.9 L176.2,332.3 L176.3,331.7 L176.5,331.1 L176.6,330.1 L176.7,329.7 L176.9,328.9 L177.0,328.3 L177.1,327.6 L177.2,326.8 L177.4,326.1 L177.5,325.1 L177.6,324.4 L177.6,323.8 L177.7,323.1 L177.8,322.6 L177.9,321.5 L178.0,321.0 L178.0,320.2 L178.1,319.4 L178.2,319.1 L178.2,318.2 L178.3,317.6 L178.4,316.9 L178.5,315.9 L178.6,315.1 L178.6,314.8 L178.7,313.8 L178.8,313.0 L178.9,312.5 L179.0,311.8 L179.1,310.9 L179.2,310.3 L179.3,309.6 L179.4,308.9 L179.5,308.3 L179.6,307.4 L179.7,306.7 L179.8,306.1 L179.9,305.4 L180.0,304.8 L180.1,303.9 L180.2,303.2" fill="none" stroke="#6a6a6a" stroke-width="0.9" stroke-linejoin="round" />
<path d="M179.9,305.2 L180.0,304.9 L180.1,303.3 L180.2,303.1 L180.4,302.0 L180.5,301.7 L180.6,301.1 L180.7,299.6 L180.9,299.3 L181.0,298.1 L181.1,298.4 L181.3,297.1 L181.4,296.0 L181.6,295.6 L181.7,295.4 L181.9,294.8 L182.0,294.0 L182.2,292.6 L182.3,292.1 L182.5,291.9 L182.6,290.5 L182.8,289.9 L183.0,289.0 L183.2,288.2 L183.3,288.2 L183.5,287.3 L183.7,286.6 L183.9,285.9 L184.1,285.3 L184.2,284.7 L184.4,283.6 L184.6,282.8 L184.8,281.8 L185.0,281.8 L185.2,280.6 L185.4,279.6 L185.6,279.2 L185.8,278.6 L186.0,278.1" fill="none" stroke="#525252" stroke-width="1.0" stroke-linejoin="round" />
<path d="M185.5,279.8 L185.6,278.8 L185.8,278.1 L186.0,277.8 L186.1,276.7 L186.3,276.8 L186.5,276.6 L186.6,275.7 L186.8,274.2 L187.0,273.8 L187.2,274.8 L187.3,272.8 L187.5,273.3 L187.7,272.6 L187.9,271.5 L188.1,270.5 L188.3,270.7 L188.5,269.4 L188.7,269.3 L188.9,268.9 L189.1,267.8 L189.3,267.6 L189.6,267.0 L189.8,265.8 L190.0,265.9 L190.3,265.1 L190.5,263.8 L190.7,264.2 L191.0,263.6 L191.3,262.9 L191.5,261.5 L191.8,262.6 L192.0,262.0 L192.3,261.5 L192.6,260.8 L192.9,259.3 L193.2,259.6 L193.5,258.4 L193.8,259.8 L194.1,257.6 L194.4,257.8 L194.7,255.9 L195.0,255.7 L195.3,255.5 L195.6,255.7 L196.0,255.1 L196.3,254.5 L196.6,252.7 L196.9,254.0 L197.2,252.2 L197.6,253.2 L197.9,252.9 L198.2,251.7 L198.6,251.3 L198.9,249.5 L199.2,251.2 L199.5,249.3 L199.8,249.2 L200.1,247.6 L200.4,247.5 L200.6,246.3 L200.9,246.4 L201.2,246.0 L201.5,245.6 L201.9,245.8 L202.2,244.7 L202.5,244.1 L202.8,243.5 L203.2,244.2 L203.5,242.1 L203.9,242.7 L204.3,240.3 L204.6,240.5 L205.0,240.8 L205.4,240.0 L205.8,241.4 L206.2,240.7 L206.5,237.7 L206.9,237.5 L207.3,237.6 L207.7,238.3 L208.1,237.5 L208.4,236.5 L208.8,235.0 L209.2,234.8 L209.5,233.2 L209.9,233.4 L210.3,234.1 L210.7,233.9 L211.0,232.1 L211.4,232.5 L211.8,233.0 L212.2,231.7 L212.6,230.9 L213.1,231.1 L213.5,230.6 L214.0,230.0 L214.4,229.2 L214.9,228.9 L215.4,228.9 L215.9,228.2 L216.4,228.9 L216.9,228.3 L217.4,228.1 L217.9,228.4 L218.5,227.8 L219.0,227.4 L219.5,226.4 L220.0,225.8 L220.5,227.0 L221.1,224.9 L221.6,224.7 L222.2,224.2 L222.7,224.6 L223.2,224.5 L223.8,224.6 L224.3,223.6 L224.9,222.4 L225.5,223.4 L226.0,223.6 L226.6,222.8 L227.1,222.4 L227.7,222.6 L228.2,222.9 L228.8,221.8 L229.4,220.8 L229.9,221.1 L230.5,221.2 L231.1,220.0 L231.7,221.4 L232.3,220.3 L232.8,220.9 L233.4,220.6 L234.0,220.2 L234.6,221.2 L235.2,219.7 L235.8,219.5 L236.4,220.0 L237.0,220.2 L237.6,219.6 L238.2,218.9 L238.8,219.8 L239.4,219.6 L240.0,220.4 L240.6,218.9 L241.1,219.0 L241.7,218.4 L242.3,217.6 L242.9,218.4 L243.4,218.6 L244.0,217.3 L244.5,217.2 L245.1,216.7" fill="none" stroke="#3c3c3c" stroke-width="1.1" stroke-linejoin="round" />
<path d="M174.0,348.0 L174.2,349.1 L174.3,350.6 L174.5,351.1 L174.6,352.1 L174.8,352.6 L174.9,352.6 L175.1,353.4 L175.2,353.6 L175.3,352.8 L175.5,352.9 L175.6,352.1 L175.8,351.2 L175.9,350.5 L176.0,349.1 L176.2,348.8 L176.3,348.3 L176.4,347.0 L176.6,346.6 L176.7,346.3 L176.8,345.2 L176.9,344.4 L177.0,343.6 L177.2,343.2 L177.3,342.4 L177.4,341.9 L177.5,340.7 L177.7,340.6 L177.8,339.6 L178.0,339.1 L178.1,338.1 L178.3,337.3 L178.4,336.8 L178.6,336.0 L178.8,335.5 L178.9,335.0 L179.1,334.5 L179.3,333.6 L179.5,332.7 L179.6,332.0 L179.8,331.6 L180.0,331.1 L180.2,330.0 L180.4,329.4 L180.5,328.6 L180.7,328.1 L180.9,327.6 L181.1,326.0 L181.3,326.1 L181.5,325.2 L181.6,324.1 L181.8,324.1 L182.0,323.3 L182.2,322.7 L182.3,321.6 L182.5,321.8 L182.7,320.6 L182.9,319.8 L183.0,319.6 L183.2,318.7 L183.4,318.0 L183.6,317.4 L183.8,315.9 L183.9,316.2 L184.1,315.0 L184.3,314.5 L184.5,314.0 L184.7,312.9 L184.9,312.5 L185.1,311.9 L185.3,311.0 L185.5,310.5 L185.8,309.3 L186.0,308.7 L186.2,308.1 L186.5,307.8 L186.7,308.0 L187.0,306.5 L187.2,305.8 L187.5,305.1 L187.8,304.8 L188.1,304.0 L188.4,302.9 L188.7,302.9 L189.0,302.0 L189.3,301.5 L189.7,300.2 L190.0,299.7 L190.3,299.6 L190.7,298.4 L191.0,298.3 L191.4,297.7 L191.7,297.0 L192.1,296.5 L192.4,295.8 L192.8,295.3 L193.1,294.4 L193.5,293.9 L193.8,294.1 L194.2,293.0 L194.6,292.3 L195.0,291.6 L195.4,290.8 L195.8,290.4 L196.2,289.8 L196.6,289.5 L197.0,288.5 L197.5,287.6 L197.9,287.5 L198.4,287.3 L198.8,287.2 L199.3,286.3 L199.8,285.3 L200.2,284.9 L200.7,284.2 L201.2,283.9 L201.7,283.2 L202.1,282.5 L202.6,282.4 L203.0,281.9 L203.5,281.2 L204.0,280.8 L204.4,280.7 L204.9,279.7 L205.3,279.0 L205.8,278.8 L206.3,277.7 L206.7,277.7 L207.2,276.8 L207.7,276.3 L208.1,276.0 L208.6,275.9 L209.1,274.7 L209.5,274.6 L210.0,274.0 L210.5,273.0 L210.9,273.0 L211.4,272.1 L211.9,271.4 L212.4,271.0 L212.8,270.5 L213.3,270.3 L213.8,269.5 L214.2,269.5 L214.7,268.7 L215.2,267.9 L215.7,267.4 L216.2,267.1 L216.6,266.1 L217.1,265.5 L217.6,265.3 L218.1,265.2 L218.6,264.6 L219.1,264.0 L219.6,263.5 L220.1,262.5 L220.6,262.5 L221.1,261.6 L221.6,261.8 L222.1,261.0 L222.6,260.5 L223.1,260.2 L223.6,259.6 L224.1,259.1 L224.6,258.7 L225.1,257.9 L225.6,257.3 L226.1,257.2 L226.7,257.0 L227.2,256.4 L227.7,255.7 L228.2,255.4 L228.8,254.7 L229.3,254.5 L229.9,253.8 L230.4,253.6 L231.0,253.6 L231.6,252.9 L232.1,252.7 L232.7,251.7 L233.3,251.3 L233.9,251.1 L234.5,250.9 L235.1,250.3 L235.7,250.3" fill="none" stroke="#666" stroke-width="0.9" stroke-linejoin="round" />
<path d="M173.6,348.0 L173.6,349.7 L173.6,351.0 L173.7,351.8 L173.8,353.2 L173.9,354.0 L174.0,355.1 L174.1,355.5 L174.2,356.3 L174.3,356.9 L174.5,356.6 L174.7,357.1 L174.8,357.7 L175.0,357.8 L175.2,358.1 L175.4,357.8 L175.7,357.1 L176.0,356.9 L176.4,355.9 L176.8,355.2 L177.2,354.4 L177.6,353.8 L178.0,352.7 L178.4,352.2 L178.8,351.4 L179.2,351.7 L179.6,350.5 L180.0,349.9 L180.5,349.3 L181.0,348.9 L181.5,348.5 L182.0,348.2 L182.6,347.7 L183.2,347.3 L183.7,346.7 L184.3,346.3 L184.9,346.1 L185.4,345.4 L186.0,345.0 L186.5,344.1 L187.1,344.1 L187.6,343.6 L188.2,343.3 L188.7,342.1 L189.3,342.3 L189.9,341.9 L190.6,341.7 L191.2,341.3 L191.9,341.1 L192.6,341.0 L193.3,340.7 L194.0,340.5 L194.7,340.6 L195.4,340.5 L196.1,340.7 L196.8,340.5 L197.5,340.3 L198.2,341.0 L198.9,340.4 L199.6,340.8 L200.4,340.6 L201.1,340.9 L201.8,340.9 L202.5,341.2 L203.2,341.1 L203.9,341.1 L204.6,341.6 L205.3,341.9 L206.0,341.8 L206.7,341.8 L207.4,341.7 L208.1,342.0 L208.8,342.2 L209.5,342.1 L210.2,342.5 L210.9,342.5 L211.6,342.7 L212.3,342.6 L213.0,342.7 L213.7,343.0 L214.4,343.2 L215.1,343.3 L215.8,343.1 L216.5,343.3 L217.2,343.6 L217.9,343.3 L218.6,344.0 L219.3,344.0 L220.0,344.0 L220.7,344.0 L221.4,344.4 L222.1,344.3 L222.8,344.9 L223.5,344.7 L224.3,344.4 L225.0,345.0 L225.7,344.8 L226.4,344.9 L227.1,345.1 L227.8,345.2 L228.5,345.4 L229.2,345.6 L229.9,345.6 L230.6,345.5 L231.3,345.4 L232.0,345.6 L232.7,345.9 L233.4,346.1 L234.1,346.4 L234.8,345.8 L235.5,346.2 L236.2,346.2 L237.0,346.2 L237.7,346.4 L238.4,346.4 L239.1,346.4 L239.8,346.4 L240.5,346.7" fill="none" stroke="#666" stroke-width="0.9" stroke-linejoin="round" />
<path d="M382.7,345.8 L383.4,346.5 L384.2,345.5 L384.9,345.3 L385.6,345.7 L386.3,345.4 L387.1,346.3 L387.8,345.5 L388.5,345.9 L389.2,345.4 L390.0,345.9 L390.7,346.3 L391.4,347.0 L392.1,346.2 L392.8,346.8 L393.6,345.8 L394.3,346.3 L395.0,346.5 L395.7,346.7 L396.5,347.2 L397.2,347.3 L397.9,346.4 L398.6,347.4 L399.4,346.7 L400.1,348.1 L400.8,347.5 L401.5,347.4 L402.3,347.3 L403.0,347.5" fill="none" stroke="#2a2a2a" stroke-width="1.2" stroke-linejoin="round" />
<path d="M402.2,347.6 L403.5,352.8 L404.8,346.5" stroke="#555" stroke-width="0.9" fill="none"/>
<path d="M404.6,347.3 L404.7,346.5 L404.9,345.9 L405.0,345.2 L405.2,344.5 L405.3,343.7 L405.4,343.1 L405.5,342.2 L405.6,342.0 L405.7,340.8 L405.8,340.1 L405.9,339.6 L406.0,338.9 L406.0,338.0 L406.1,337.1 L406.1,336.5 L406.2,335.8 L406.2,335.1 L406.3,334.4 L406.3,333.8 L406.3,333.1 L406.4,332.2 L406.4,331.6 L406.4,330.9 L406.5,330.2 L406.5,329.4 L406.5,328.6 L406.6,328.0 L406.6,327.4 L406.7,326.5 L406.8,326.0 L406.8,325.2 L406.9,324.3 L407.0,323.5 L407.1,322.9 L407.1,322.2 L407.2,321.5 L407.3,320.6 L407.4,320.3 L407.5,319.6 L407.6,318.6 L407.6,317.7 L407.7,317.2 L407.8,316.5 L407.9,315.9 L407.9,315.1 L408.0,314.3 L408.1,313.4 L408.2,312.9 L408.3,312.3 L408.4,311.4 L408.4,310.8 L408.5,310.0 L408.6,309.3 L408.7,308.5" fill="none" stroke="#6a6a6a" stroke-width="0.85" stroke-linejoin="round" />
<path d="M405.2,347.3 L405.3,346.4 L405.5,346.0 L405.6,345.1 L405.8,344.5 L405.9,343.7 L406.0,343.1 L406.1,342.3 L406.2,341.7 L406.3,340.8 L406.4,340.0 L406.5,339.4 L406.6,338.7 L406.6,337.9 L406.7,337.2 L406.7,336.4 L406.8,335.9 L406.8,335.1 L406.9,334.4 L406.9,334.0 L406.9,333.0 L407.0,332.3 L407.0,331.6 L407.0,330.8 L407.1,330.0 L407.1,329.5 L407.1,328.8 L407.2,327.7 L407.2,327.2 L407.3,326.5 L407.4,325.7 L407.4,325.2 L407.5,324.3 L407.6,323.7 L407.7,322.9 L407.7,322.2 L407.8,321.6 L407.9,320.7 L408.0,320.0 L408.1,319.2 L408.2,318.5 L408.2,318.0 L408.3,317.2 L408.4,316.4 L408.5,315.6 L408.5,315.3 L408.6,314.3 L408.7,313.5 L408.8,312.9 L408.9,312.1 L409.0,311.4 L409.0,310.8 L409.1,310.1 L409.2,309.3 L409.3,308.7" fill="none" stroke="#6a6a6a" stroke-width="0.85" stroke-linejoin="round" />
<path d="M408.5,310.6 L408.6,309.8 L408.6,309.1 L408.7,308.3 L408.8,307.8 L408.9,307.1 L409.0,306.0 L409.1,305.6 L409.2,304.6 L409.3,303.9 L409.4,303.3 L409.4,302.9 L409.5,302.0 L409.6,301.6 L409.6,300.9 L409.7,299.7 L409.7,298.8 L409.8,298.1 L409.8,297.7 L409.9,297.1 L409.9,296.6 L409.9,295.0 L410.0,295.0 L410.0,294.3 L410.1,294.0 L410.1,292.6 L410.2,291.8 L410.2,290.6 L410.3,290.1 L410.3,289.3 L410.4,288.6 L410.5,287.9 L410.5,287.0 L410.6,286.7 L410.7,286.1 L410.8,285.5 L410.9,284.5 L411.0,284.2 L411.1,283.5 L411.3,282.0 L411.4,281.6 L411.5,280.6" fill="none" stroke="#4c4c4c" stroke-width="0.95" stroke-linejoin="round" />
<path d="M409.1,310.6 L409.2,309.9 L409.2,309.1 L409.3,308.9 L409.4,308.3 L409.5,307.1 L409.6,306.2 L409.7,305.5 L409.8,304.8 L409.9,304.3 L410.0,303.2 L410.0,302.8 L410.1,301.9 L410.2,301.5 L410.2,300.9 L410.3,300.3 L410.3,299.0 L410.4,297.9 L410.4,297.1 L410.5,296.8 L410.5,295.7 L410.5,294.9 L410.6,294.6 L410.6,293.7 L410.7,293.4 L410.7,293.1 L410.8,291.7 L410.8,291.2 L410.9,289.9 L410.9,289.7 L411.0,288.7 L411.1,287.8 L411.1,286.9 L411.2,287.2 L411.3,285.5 L411.4,284.9 L411.5,284.6 L411.6,283.9 L411.7,283.2 L411.9,282.5 L412.0,281.4 L412.1,281.2" fill="none" stroke="#4c4c4c" stroke-width="0.95" stroke-linejoin="round" />
<path d="M411.2,283.0 L411.3,281.2 L411.4,283.0 L411.4,280.9 L411.5,281.3 L411.6,278.8 L411.7,278.4 L411.8,278.3 L411.9,277.6 L412.0,278.4 L412.1,275.7 L412.1,276.5 L412.2,275.0 L412.3,275.6 L412.4,274.8 L412.5,273.6 L412.6,275.2 L412.8,272.8 L412.9,273.1 L413.0,270.6 L413.1,270.9 L413.2,270.5 L413.3,270.0 L413.4,269.0 L413.6,268.0 L413.7,265.6 L413.8,267.0 L414.0,266.2 L414.1,266.1 L414.3,266.4 L414.4,266.9 L414.6,265.0 L414.7,264.8 L414.9,263.9 L415.1,263.4 L415.2,262.7 L415.4,261.5 L415.6,260.8 L415.7,260.8 L415.9,261.4 L416.1,260.0 L416.3,260.1 L416.4,257.2 L416.6,257.8 L416.8,257.3 L417.0,256.9 L417.2,254.8 L417.4,253.8 L417.6,253.0 L417.8,253.8 L418.0,255.5 L418.2,253.2 L418.4,251.5 L418.6,252.2 L418.8,251.1 L419.0,250.9 L419.3,249.8 L419.5,248.6 L419.7,248.7 L420.0,249.1 L420.2,248.3 L420.5,248.5 L420.7,246.1 L421.0,247.3 L421.3,245.9 L421.6,245.5 L421.9,245.8 L422.2,244.2 L422.5,244.0 L422.9,243.8 L423.2,243.3 L423.5,242.9 L423.9,242.8 L424.2,241.7 L424.6,240.4 L424.9,242.2 L425.3,239.8 L425.6,239.6 L426.0,238.3 L426.4,236.6 L426.8,237.3 L427.2,237.5 L427.6,237.4 L428.0,236.6 L428.5,236.8 L428.9,236.5 L429.3,236.1 L429.8,234.9 L430.2,234.5 L430.7,233.9 L431.2,233.0 L431.6,234.5 L432.1,232.0 L432.6,232.6 L433.1,232.6 L433.6,230.4 L434.2,232.4 L434.7,231.3 L435.2,231.4 L435.8,230.7 L436.3,229.5 L436.9,230.6 L437.5,230.3 L438.0,230.8 L438.6,230.1 L439.1,228.1 L439.6,230.0 L440.2,229.5 L440.7,229.1 L441.2,228.6 L441.7,227.3 L442.2,228.0 L442.7,226.9 L443.3,229.2 L443.8,226.4 L444.3,225.4 L444.8,225.7 L445.3,226.8 L445.9,224.9 L446.4,223.2 L446.9,226.1 L447.5,224.9 L448.0,224.0 L448.6,224.8 L449.2,223.2 L449.7,222.8 L450.3,224.3 L450.9,222.9 L451.5,223.6 L452.0,223.0 L452.6,223.5 L453.2,222.7 L453.8,220.8 L454.4,222.9 L454.9,221.8 L455.5,222.7 L456.1,222.0 L456.7,222.9 L457.3,221.4 L457.9,219.9 L458.5,221.2 L459.1,221.7 L459.7,220.9 L460.3,220.7 L460.9,222.2 L461.5,220.8 L462.1,221.7 L462.7,220.9 L463.3,219.5 L463.9,219.8 L464.5,220.2 L465.1,220.7 L465.7,219.7 L466.3,219.1 L466.9,219.4 L467.5,219.7 L468.1,219.3 L468.7,219.5 L469.3,221.4 L469.9,220.1 L470.5,219.1 L471.1,219.7 L471.7,220.9 L472.3,220.1 L472.9,219.4 L473.5,218.4 L474.1,218.0 L474.7,219.1 L475.3,219.2 L475.9,217.9 L476.5,218.1 L477.1,219.1 L477.7,217.3 L478.3,217.6 L478.9,218.9 L479.5,219.3 L480.1,219.1 L480.7,219.6 L481.3,220.0 L481.9,219.4 L482.5,218.4 L483.1,220.3 L483.7,219.9 L484.3,219.2 L484.9,217.8 L485.5,218.7 L486.1,216.7" fill="none" stroke="#2a2a2a" stroke-width="1.25" stroke-linejoin="round" />
<path d="M411.8,283.0 L411.9,280.4 L412.0,281.5 L412.1,282.1 L412.2,280.7 L412.3,281.3 L412.4,279.4 L412.5,278.9 L412.6,278.0 L412.7,278.1 L412.8,277.0 L412.9,277.4 L413.0,277.2 L413.1,275.6 L413.2,273.8 L413.3,274.5 L413.4,274.6 L413.6,273.4 L413.7,272.6 L413.8,272.5 L413.9,272.2 L414.1,268.5 L414.2,271.2 L414.3,270.0 L414.5,269.2 L414.6,267.8 L414.8,267.8 L415.0,267.5 L415.1,265.3 L415.3,266.5 L415.5,265.3 L415.6,265.9 L415.8,264.7 L416.0,263.4 L416.2,263.0 L416.4,262.9 L416.6,262.0 L416.8,261.7 L417.0,260.1 L417.2,259.1 L417.4,259.1 L417.6,257.8 L417.8,257.8 L418.0,258.1 L418.2,256.0 L418.4,255.7 L418.6,256.7 L418.9,255.1 L419.1,255.0 L419.3,253.4 L419.5,253.0 L419.8,253.1 L420.0,254.1 L420.3,252.6 L420.5,250.3 L420.8,251.5 L421.0,251.3 L421.3,250.6 L421.6,248.5 L421.8,248.9 L422.1,250.1 L422.4,247.2 L422.7,247.6 L423.0,246.2 L423.3,245.3 L423.7,245.5 L424.0,246.1 L424.3,245.7 L424.7,243.6 L425.0,243.4 L425.4,242.6 L425.7,241.1 L426.1,242.8 L426.5,243.1 L426.9,242.6 L427.3,240.6 L427.7,241.6 L428.1,240.9 L428.5,239.3 L428.9,239.2 L429.4,238.4 L429.8,238.5 L430.3,239.3 L430.8,236.8 L431.2,236.1 L431.7,237.4 L432.2,236.4 L432.7,234.6 L433.2,235.0 L433.7,234.8 L434.2,234.8 L434.8,235.3 L435.4,235.6 L435.9,234.5 L436.5,234.5 L437.1,233.6 L437.7,234.8 L438.3,234.9 L438.8,233.4 L439.4,232.8 L440.0,234.8 L440.5,233.7 L441.0,231.9 L441.6,231.0 L442.1,231.8 L442.6,232.6 L443.1,230.9 L443.6,230.8 L444.2,230.3 L444.7,230.9 L445.2,231.2 L445.7,228.8 L446.3,229.4 L446.8,229.2 L447.4,228.7 L448.0,228.0 L448.5,229.5 L449.1,228.7 L449.7,229.0 L450.3,229.5 L450.9,227.8 L451.5,228.4 L452.1,227.5 L452.7,227.6 L453.2,227.8 L453.8,227.3 L454.4,226.0 L455.0,228.3 L455.6,227.1 L456.2,226.0 L456.8,225.0 L457.4,226.7 L458.0,227.1 L458.6,227.3 L459.2,227.3 L459.8,226.0 L460.4,226.7 L461.0,224.9 L461.6,226.2 L462.2,226.7 L462.8,225.4 L463.4,225.6 L464.0,225.8 L464.6,225.7 L465.2,226.7 L465.8,224.6 L466.4,226.4 L467.0,224.3 L467.6,224.6 L468.2,224.5 L468.8,225.0 L469.4,224.5 L470.0,225.2 L470.6,224.8 L471.2,226.5 L471.8,224.9 L472.4,224.3 L473.0,224.8 L473.6,224.9 L474.2,224.2 L474.8,223.4 L475.4,223.5 L476.0,224.2 L476.6,224.7 L477.2,224.4 L477.8,223.8 L478.4,224.3 L479.0,223.4 L479.6,223.9 L480.2,224.8 L480.8,224.5 L481.4,224.6 L482.0,223.2 L482.6,223.6 L483.2,222.6 L483.8,224.1 L484.4,223.0 L485.0,222.2" fill="none" stroke="#2a2a2a" stroke-width="1.25" stroke-linejoin="round" />
<path d="M405.8,347.3 L405.9,346.7 L406.0,345.5 L406.0,344.9 L406.1,344.7 L406.2,343.8 L406.3,343.1 L406.4,342.1 L406.5,342.0 L406.6,341.2 L406.6,340.5 L406.7,339.4 L406.8,339.0 L406.9,338.4 L407.0,337.5 L407.2,336.8 L407.3,336.0 L407.4,335.5 L407.5,334.7 L407.6,334.0 L407.7,333.1 L407.9,332.3 L408.0,332.1 L408.1,331.6 L408.2,330.7 L408.3,330.1 L408.5,329.1 L408.6,328.5 L408.7,327.9 L408.8,327.0 L408.9,326.7 L409.1,325.4 L409.2,324.9 L409.3,324.2 L409.4,323.5 L409.5,323.1 L409.6,321.8 L409.8,321.7 L409.9,321.0 L410.0,320.2 L410.1,319.7 L410.2,319.2 L410.3,318.1 L410.4,317.5 L410.6,316.7 L410.7,316.1 L410.8,315.2 L410.9,314.4 L411.1,314.0 L411.2,313.1 L411.3,312.7 L411.4,311.9 L411.5,311.0 L411.6,310.5 L411.7,309.7 L411.8,309.0 L411.9,308.5 L412.0,307.6 L412.1,306.9 L412.2,305.8 L412.3,305.6 L412.4,304.5 L412.4,304.0 L412.5,303.7 L412.6,303.0 L412.7,301.9 L412.8,301.0 L412.9,300.7 L413.0,299.8 L413.1,299.3 L413.3,298.2 L413.4,298.0 L413.5,297.4 L413.7,296.1 L413.8,295.6 L413.9,294.9 L414.1,294.5 L414.2,293.3 L414.4,293.0 L414.5,292.2 L414.7,291.4 L414.8,291.0 L415.0,289.8 L415.1,289.2 L415.3,288.7 L415.4,288.3 L415.6,287.4 L415.7,286.6 L415.9,286.2 L416.1,285.3 L416.2,284.6 L416.4,283.9 L416.6,283.4 L416.8,283.2 L417.0,281.7 L417.2,281.3 L417.4,280.6 L417.6,279.9 L417.8,279.6 L418.1,278.8 L418.3,278.1 L418.6,277.3 L418.9,276.5 L419.2,276.1 L419.5,275.4 L419.8,274.7 L420.1,274.3 L420.4,273.2 L420.7,272.7 L421.0,272.4 L421.3,271.6 L421.6,271.1 L421.9,270.1 L422.2,269.8 L422.5,268.9 L422.8,268.6 L423.1,267.9 L423.4,267.2 L423.8,266.8 L424.1,265.9 L424.4,265.1 L424.7,264.9 L425.1,264.0 L425.4,263.6 L425.8,262.8 L426.1,262.4 L426.5,261.4 L426.9,260.7 L427.3,260.1 L427.7,260.0 L428.1,258.9 L428.6,258.3 L429.0,257.8 L429.5,257.6 L429.9,257.1 L430.4,256.3 L430.8,256.1 L431.3,255.5 L431.8,255.2 L432.3,254.6 L432.8,253.8 L433.3,253.5 L433.8,253.0 L434.4,252.6 L434.9,252.1 L435.5,251.7 L436.1,251.4 L436.7,250.8 L437.2,250.6 L437.8,250.0 L438.4,249.6 L439.0,249.5 L439.7,249.2 L440.3,248.9 L440.9,248.5 L441.6,248.1 L442.2,247.9 L442.9,247.6 L443.5,247.0 L444.2,246.8 L444.8,247.0 L445.5,246.4 L446.1,245.5 L446.7,245.8 L447.4,245.5 L448.0,244.9 L448.7,245.4 L449.3,244.9 L450.0,244.5 L450.6,244.1 L451.3,243.9 L451.9,243.8 L452.6,243.4 L453.3,243.0 L453.9,242.9 L454.6,242.7 L455.3,242.5 L456.0,242.0 L456.6,242.1 L457.3,241.9 L458.0,241.7 L458.7,241.5 L459.4,241.0 L460.0,241.3 L460.7,241.1 L461.4,240.6 L462.1,240.7 L462.8,240.4 L463.5,240.3 L464.2,240.5 L464.9,240.3 L465.6,240.5 L466.3,240.0 L467.0,239.6 L467.7,239.8 L468.4,239.2 L469.1,239.9 L469.8,239.5 L470.5,239.5 L471.2,239.3 L471.9,239.0 L472.6,239.1 L473.3,238.9 L474.0,238.9 L474.7,239.0 L475.4,238.7" fill="none" stroke="#555" stroke-width="0.9" stroke-linejoin="round" />
</svg>
</body></html>
